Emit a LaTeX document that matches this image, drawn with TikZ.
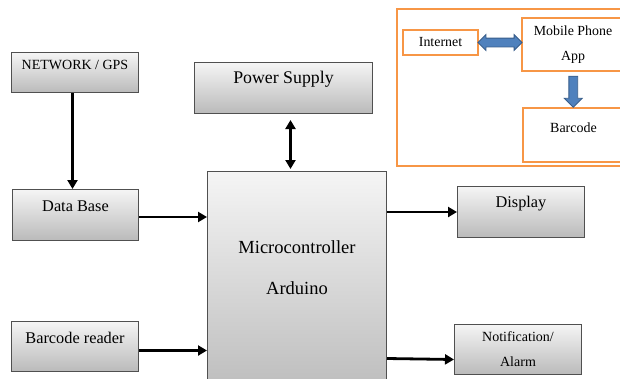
\documentclass[tikz,border=0pt]{standalone}
\usepackage{fontspec}
\setmainfont{Liberation Serif}
\usetikzlibrary{arrows.meta,shapes.arrows,calc}
\definecolor{boxline}{HTML}{505050}
\definecolor{offorange}{HTML}{F79646}
\definecolor{offblue}{HTML}{4F81BD}
\definecolor{offblueline}{HTML}{385D8A}
\tikzset{
  blk/.style={draw=boxline, line width=1pt, top color=black!4, bottom color=black!27,
              inner sep=0pt, anchor=north west},
  obox/.style={draw=offorange, line width=2pt, inner sep=0pt, anchor=north west},
  arr/.style={line width=2.8pt, -{Triangle[length=9pt,width=10pt]}},
  barrow/.style={fill=offblue, draw=offblueline, line width=0.8pt, inner sep=4pt}
}
\begin{document}
\begin{tikzpicture}[x=1pt,y=-1pt]
  \useasboundingbox (0,0) rectangle (620,378);
  \clip (0,0) rectangle (620,378);

  % left column
  \node[blk, minimum width=127pt, minimum height=40pt, text height=17pt, text depth=23pt,
        font=\fontsize{14}{16}\selectfont] (net) at (11,52) {NETWORK / GPS};
  \node[blk, minimum width=126pt, minimum height=51pt, text height=22pt, text depth=29pt,
        font=\fontsize{16.3}{19}\selectfont] (db) at (12,189) {Data Base};
  \node[blk, minimum width=127pt, minimum height=50pt, text height=21.5pt, text depth=28.5pt,
        font=\fontsize{16.3}{19}\selectfont] (br) at (11,321) {Barcode reader};

  % middle column
  \node[blk, minimum width=178pt, minimum height=51pt, text height=21pt, text depth=30pt,
        font=\fontsize{17.8}{21}\selectfont] (ps) at (194,62) {Power Supply};
  \node[blk, minimum width=179pt, minimum height=230pt, text height=123pt, text depth=107pt,
        align=center, font=\fontsize{18.5}{41}\selectfont] (mc) at (207,171) {Microcontroller\\Arduino};

  % right column
  \node[blk, minimum width=127pt, minimum height=51pt, text height=21pt, text depth=30pt,
        font=\fontsize{16.3}{19}\selectfont] (disp) at (457,186) {Display};
  \node[blk, minimum width=127pt, minimum height=50pt, align=center,
        font=\fontsize{14}{25}\selectfont] (nt) at (454,324) {Notification/\\Alarm};

  % phone group
  \draw[draw=offorange, line width=2pt] (397,9) rectangle (623,166);
  \node[obox, minimum width=75pt, minimum height=25pt,
        font=\fontsize{13.9}{16}\selectfont] (inet) at (402,29) {Internet};
  \node[obox, minimum width=102pt, minimum height=53pt, align=center,
        font=\fontsize{13.9}{25}\selectfont] (mob) at (521,17) {Mobile Phone\\App};
  \node[obox, minimum width=101pt, minimum height=54pt, text height=24pt, text depth=30pt,
        font=\fontsize{14}{16}\selectfont] (bc) at (522,107) {Barcode};

  \node[barrow, double arrow, double arrow head extend=3.5pt, minimum height=44pt]
    (ia) at ($(inet.east)!0.5!(mob.west |- inet.east)$) {};
  \node[barrow, single arrow, single arrow head extend=4.5pt, minimum height=31pt, rotate=-90]
    (ma) at ($(mob.south)!0.5!(bc.north)$) {};

  % connectors
  \draw[arr] ([xshift=-2.5pt]net.south) -- ([xshift=-2.5pt]net.south |- db.north);
  \draw[arr] ([yshift=-2pt]db.east) -- ([yshift=-2pt]db.east -| mc.west);
  \draw[arr] ([yshift=-4pt]br.east) -- ([yshift=-4pt]br.east -| mc.west);
  \draw[arr, {Triangle[length=9pt,width=10pt]}-{Triangle[length=9pt,width=10pt]}, shorten <=6pt, shorten >=2pt]
    ([xshift=7pt]ps.south) -- ([xshift=7pt]ps.south |- mc.north);
  \draw[arr] (disp.west -| mc.east) -- (disp.west);
  \draw[arr] ([yshift=-9pt]nt.west -| mc.east) -- ([yshift=-10pt]nt.west);
\end{tikzpicture}
\end{document}
